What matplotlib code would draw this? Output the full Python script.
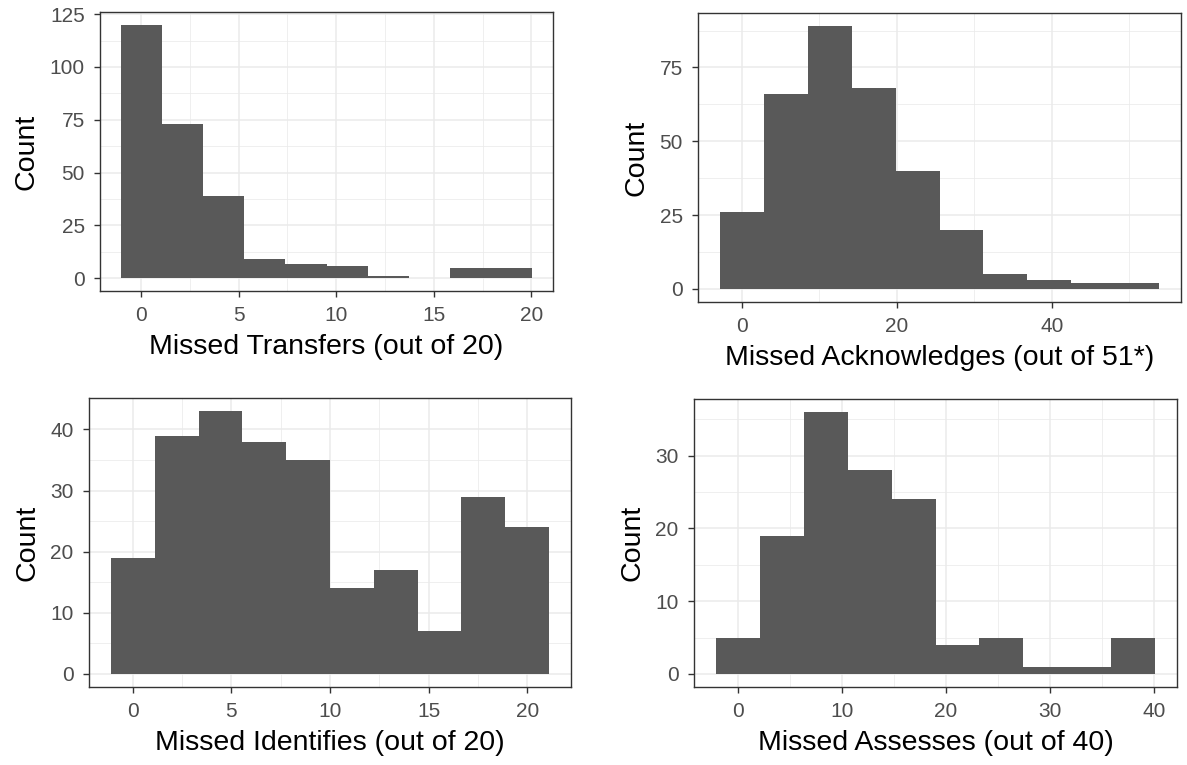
import matplotlib
matplotlib.use("Agg")
import matplotlib.pyplot as plt
import numpy as np

plt.rcParams['font.family'] = ['Liberation Sans', 'DejaVu Sans']

# histogram counts, 10 bins each (ggplot style, bins centred on data min..max)
transfers_counts = [120, 73, 39, 9, 7, 6, 1, 0, 5, 5]
transfers_range = (0, 19)
acks_counts = [26, 66, 89, 68, 40, 20, 5, 3, 2, 2]
acks_range = (0, 51)
identifies_counts = [19, 39, 43, 38, 35, 14, 17, 7, 29, 24]
identifies_range = (0, 20)
assesses_counts = [5, 19, 36, 28, 24, 4, 5, 1, 1, 5]
assesses_range = (0, 38)

W, H = 1187, 765
fig = plt.figure(figsize=(W / 100, H / 100), dpi=100)


def panel(box, counts, rng, xlabel, xmaj, xmin, ymaj, ymin):
    l, t, r, b = box
    ax = fig.add_axes([l / W, 1 - b / H, (r - l) / W, (b - t) / H])
    n = len(counts)
    w = (rng[1] - rng[0]) / (n - 1)
    edges = np.linspace(rng[0] - w / 2, rng[1] + w / 2, n + 1)
    # filled steps so neighbouring bins don't leave hairline gaps
    ax.stairs(counts, edges, fill=True, color='#595959', linewidth=0, zorder=3)

    lo, hi = edges[0], edges[-1]
    pad = (hi - lo) * 0.05
    ax.set_xlim(lo - pad, hi + pad)
    ymax = max(counts)
    ax.set_ylim(-ymax * 0.05, ymax * 1.05)

    ax.set_xticks(xmaj)
    ax.set_xticks(xmin, minor=True)
    ax.set_yticks(ymaj)
    ax.set_yticks(ymin, minor=True)
    ax.grid(which='major', color='#EBEBEB', linewidth=1.1, zorder=0)
    ax.grid(which='minor', color='#EBEBEB', linewidth=0.55, zorder=0)
    ax.set_axisbelow(True)
    ax.tick_params(which='major', length=4.5, width=1.0, color='#333333',
                   labelsize=15, labelcolor='#4D4D4D', pad=6.5)
    ax.tick_params(which='minor', length=0)
    for s in ax.spines.values():
        s.set_color('#333333')
        s.set_linewidth(1.0)
    ax.set_xlabel(xlabel, fontsize=20.5, labelpad=6.5)
    ax.set_ylabel('Count', fontsize=20.5, labelpad=7)
    return ax


panel((100, 12, 553, 291), transfers_counts, transfers_range,
      'Missed Transfers (out of 20)',
      [0, 5, 10, 15, 20], [2.5, 7.5, 12.5, 17.5],
      [0, 25, 50, 75, 100, 125], [12.5, 37.5, 62.5, 87.5, 112.5])

panel((698, 13, 1181, 302), acks_counts, acks_range,
      'Missed Acknowledges (out of 51*)',
      [0, 20, 40], [10, 30, 50],
      [0, 25, 50, 75], [12.5, 37.5, 62.5, 87.5])

panel((89, 398, 571, 687), identifies_counts, identifies_range,
      'Missed Identifies (out of 20)',
      [0, 5, 10, 15, 20], [2.5, 7.5, 12.5, 17.5],
      [0, 10, 20, 30, 40], [5, 15, 25, 35])

panel((694, 399, 1177, 687), assesses_counts, assesses_range,
      'Missed Assesses (out of 40)',
      [0, 10, 20, 30, 40], [5, 15, 25, 35],
      [0, 10, 20, 30], [5, 15, 25, 35])

fig.savefig('out.png', dpi=100)
